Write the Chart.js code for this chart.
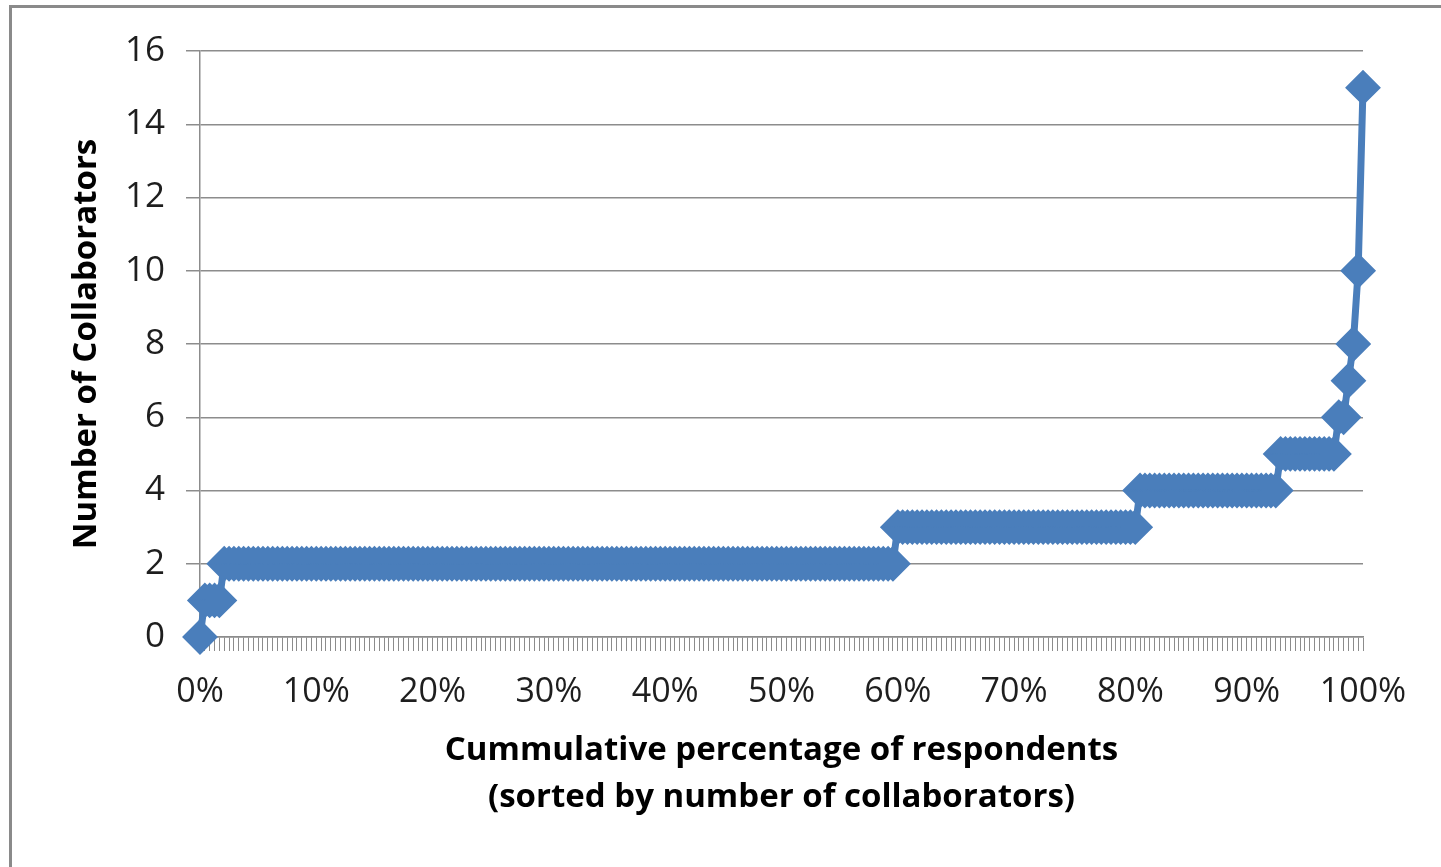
<!DOCTYPE html>
<html>
<head>
<meta charset="utf-8">
<script src="https://cdn.jsdelivr.net/npm/chart.js@4.4.1/dist/chart.umd.min.js"></script>
<style>
  html, body { margin: 0; padding: 0; background: #fff; overflow: hidden; }
  #frame {
    position: absolute; left: 9px; top: 5px; width: 1600px; height: 1000px;
    border-top: 3px solid #8a8a8a; border-left: 3px solid #8a8a8a;
  }
  #wrap { position: absolute; left: 0; top: 0; width: 1441px; height: 867px; }
</style>
</head>
<body>
<div id="frame"></div>
<div id="wrap"><canvas id="c" width="1441" height="867"></canvas></div>
<script>
// Survey result: how many respondents reported each number of collaborators
const collaborators = [0, 1, 2, 3, 4, 5, 6, 7, 8, 10, 15];
const respondents   = [1, 4, 139, 50, 29, 12, 2, 1, 1, 1, 1];

// Labels shown along the horizontal axis
const xTickLabels = ['0%', '10%', '20%', '30%', '40%', '50%', '60%', '70%', '80%', '90%', '100%'];
const yTicks = { min: 0, max: 16, step: 2 };

// One entry per respondent, sorted by number of collaborators
const sortedValues = [];
collaborators.forEach((c, k) => {
  for (let n = 0; n < respondents[k]; n++) sortedValues.push(c);
});
const total = sortedValues.length;
const labelEvery = (total - 1) / (xTickLabels.length - 1);
const categories = sortedValues.map((_, i) => Math.round(i / (total - 1) * 100) + '%');

const BLUE = '#4a7ebb';
const GRID = '#8c8c8c';
const TEXT = '#1e1e1e';

new Chart(document.getElementById('c'), {
  type: 'line',
  data: {
    labels: categories,
    datasets: [{
      data: sortedValues,
      borderColor: BLUE,
      backgroundColor: BLUE,
      borderWidth: 7,
      tension: 0,
      pointStyle: 'rectRot',
      pointRadius: 16.5,
      pointBorderWidth: 2,
      pointBackgroundColor: BLUE,
      pointBorderColor: BLUE,
      clip: false
    }]
  },
  options: {
    responsive: false,
    animation: false,
    devicePixelRatio: 1,
    layout: { padding: { left: 0, right: 78, top: 51, bottom: 0 } },
    plugins: { legend: { display: false }, tooltip: { enabled: false } },
    scales: {
      x: {
        type: 'category',
        offset: false,
        afterFit: (s) => { s.height = 230; },
        grid: {
          drawOnChartArea: false,
          drawTicks: true,
          tickLength: 14,
          tickColor: GRID,
          tickWidth: 1,
          offset: false
        },
        border: { display: true, color: GRID, width: 1.5 },
        ticks: {
          autoSkip: false,
          maxRotation: 0,
          minRotation: 0,
          padding: 21,
          color: TEXT,
          font: { family: 'Open Sans', size: 34 },
          callback: (v, i) => (i % labelEvery === 0 ? xTickLabels[i / labelEvery] : '')
        },
        title: {
          display: true,
          text: ['Cummulative percentage of respondents', '(sorted by number of collaborators)'],
          color: '#000',
          font: { family: 'Open Sans', size: 33, weight: 'bold', lineHeight: 1.45 },
          padding: { top: 0, bottom: 45 }
        }
      },
      y: {
        min: yTicks.min,
        max: yTicks.max,
        afterFit: (s) => { s.width = 200; },
        grid: {
          color: GRID,
          lineWidth: 1.5,
          drawTicks: true,
          tickLength: 14,
          tickColor: GRID
        },
        border: { display: true, color: GRID, width: 1.5 },
        ticks: {
          stepSize: yTicks.step,
          padding: 21,
          color: TEXT,
          font: { family: 'Open Sans', size: 35 }
        },
        title: {
          display: true,
          text: 'Number of Collaborators',
          color: '#000',
          font: { family: 'Open Sans', size: 33, weight: 'bold', lineHeight: 1.2 },
          padding: { top: 67, bottom: 0 }
        }
      }
    }
  }
});
</script>
</body>
</html>
